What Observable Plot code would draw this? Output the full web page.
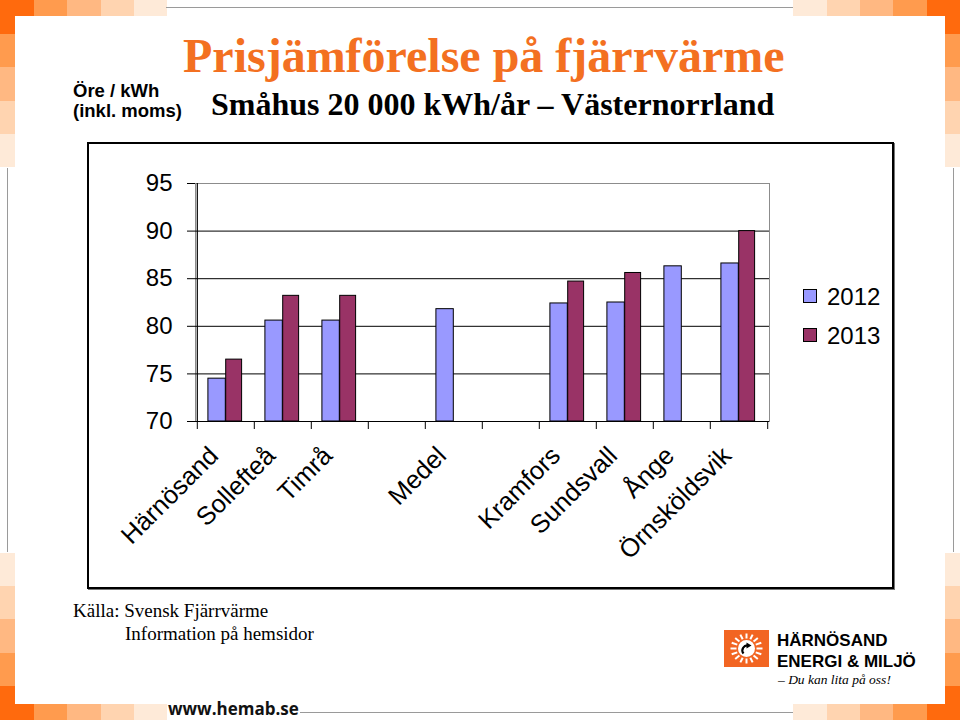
<!DOCTYPE html>
<html><head><meta charset="utf-8">
<script src="https://cdn.jsdelivr.net/npm/d3@7"></script>
<script src="https://cdn.jsdelivr.net/npm/@observablehq/plot@0.6"></script>
<style>
html,body{margin:0;padding:0;background:#fff;}
#page{position:relative;width:960px;height:720px;overflow:hidden;background:#fff;}
.sq{position:absolute;width:34px;height:34px;}
#panel{position:absolute;left:15px;top:16px;width:930px;height:688px;background:#fff;}
#chart{position:absolute;left:88px;top:143px;}
#frame{position:absolute;left:87px;top:142px;width:807px;height:447px;box-sizing:border-box;border:2px solid #000;box-shadow:1px 1px 0 #777;pointer-events:none;}
#overlay{position:absolute;left:0;top:0;}
</style></head>
<body><div id="page"><div id="deco"></div><div id="panel"></div><div id="chart"></div><div id="frame"></div>
<svg id="overlay" width="960" height="720"></svg></div>
<script>
// ---- data ----
const categories = ["Härnösand", "Sollefteå", "Timrå", null, "Medel", null, "Kramfors", "Sundsvall", "Ånge", "Örnsköldsvik"];
const years = ["2012", "2013"];
const values2012 = [74.5, 80.6, 80.6, null, 81.8, null, 82.4, 82.5, 86.3, 86.6];
const values2013 = [76.5, 83.2, 83.2, null, null, null, 84.7, 85.6, null, 90.0];
const yTicks = [70, 75, 80, 85, 90, 95];
const gridLines = [75, 80, 85, 90];
const barColors = ["#9999FF", "#993366"];

// ---- decoration (orange squares) ----
const shades = ["#FF6A0D", "#FF9B4E", "#FFB882", "#FFD4B0", "#FEEAD8"];
const deco = document.getElementById("deco");
function sq(x, y, c) { const d = document.createElement("div"); d.className = "sq"; d.style.left = x + "px"; d.style.top = y + "px"; d.style.background = c; deco.appendChild(d); }
for (let i = 4; i >= 0; i--) {
  sq(i * 33.3, 0, shades[i]); sq(0, i * 33.3, shades[i]);
  sq(926.5 - i * 33.3, 0, shades[i]); sq(926.5, i * 33.3, shades[i]);
  sq(i * 33.3, 686, shades[i]); sq(0, 686 - i * 33.3, shades[i]);
  sq(926.5 - i * 33.3, 686, shades[i]); sq(926.5, 686 - i * 33.3, shades[i]);
}

// ---- chart ----
const keys = categories.map((c, i) => c ?? `gap${i}`);
const label = k => k.startsWith("gap") ? "" : k;
const bars = [];
keys.forEach((k, i) => {
  if (values2012[i] != null) bars.push({key: k, year: years[0], value: values2012[i]});
  if (values2013[i] != null) bars.push({key: k, year: years[1], value: values2013[i]});
});
const W = 806, H = 446, mL = 107, mR = 125, mT = 40, mB = 168;
const bw = (W - mL - mR) / keys.length;

const chart = Plot.plot({
  width: W, height: H, marginLeft: mL, marginRight: mR, marginTop: mT, marginBottom: mB,
  style: {fontFamily: "'Liberation Sans', Arial, sans-serif", fontSize: "24px", color: "#000", background: "transparent", overflow: "visible"},
  x: {type: "band", domain: keys, padding: 0, axis: null},
  y: {domain: [70, 95], axis: null},
  marks: [
    Plot.frame({stroke: "#8c8c8c"}),
    Plot.ruleY(gridLines, {stroke: "#000"}),
    Plot.barY(bars.filter(d => d.year === years[0]), {x: "key", y1: 70, y2: "value", fill: barColors[0], stroke: "#000", insetLeft: bw * 0.19, insetRight: bw * 0.5}),
    Plot.barY(bars.filter(d => d.year === years[1]), {x: "key", y1: 70, y2: "value", fill: barColors[1], stroke: "#000", insetLeft: bw * 0.5, insetRight: bw * 0.216}),
    Plot.ruleY([70], {stroke: "#000", strokeWidth: 1.2}),
    Plot.ruleX(keys, {x: d => d, y1: 70, y2: 70, insetBottom: -8, dx: -bw / 2, stroke: "#000"}),
    Plot.ruleX([keys[keys.length - 1]], {x: d => d, y1: 70, y2: 70, insetBottom: -8, dx: bw / 2, stroke: "#000"}),
    Plot.ruleX([keys[0]], {x: d => d, y1: 70, y2: 95, dx: -bw / 2, stroke: "#000", strokeWidth: 1.2}),
    Plot.axisY({ticks: yTicks, tickSize: 8, tickPadding: 15, fontSize: 24, label: null}),
    Plot.text(keys, {x: d => d, text: label, frameAnchor: "bottom", rotate: -45, textAnchor: "end", lineAnchor: "middle", dy: 30, dx: -12, fontSize: 25.5})
  ]
});
document.getElementById("chart").appendChild(chart);

// ---- overlay texts ----
const ov = d3.select("#overlay");
const line = (x1, y1, x2, y2) => ov.append("line").attr("x1", x1).attr("y1", y1).attr("x2", x2).attr("y2", y2).attr("stroke", "#9a9a9a").attr("stroke-width", 1);
line(166, 7.5, 793, 7.5); line(300, 712.5, 793, 712.5); line(7.5, 168, 7.5, 552); line(953.5, 168, 953.5, 552);
const txt = (x, y, s, o) => {
  const t = ov.append("text").attr("x", x).attr("y", y).text(s);
  Object.entries(o).forEach(([k, v]) => t.attr(k, v));
  return t;
};
const serif = "'Liberation Serif', 'Times New Roman', serif";
const sans = "'Liberation Sans', Arial, sans-serif";
txt(183, 72, "Prisjämförelse på fjärrvärme", {"font-family": serif, "font-weight": "bold", "font-size": 48, fill: "#F37021"});
txt(211, 115, "Småhus 20 000 kWh/år – Västernorrland", {"font-family": serif, "font-weight": "bold", "font-size": 32, fill: "#000"});
txt(73, 97, "Öre / kWh", {"font-family": sans, "font-weight": "bold", "font-size": 18.5});
txt(73, 117, "(inkl. moms)", {"font-family": sans, "font-weight": "bold", "font-size": 18.5});
// legend
years.forEach((y, i) => {
  ov.append("rect").attr("x", 803.5).attr("y", 289.5 + i * 39).attr("width", 13).attr("height", 13).attr("fill", barColors[i]).attr("stroke", "#000");
  txt(827, 305 + i * 39, y, {"font-family": sans, "font-size": 24});
});
txt(73, 617, "Källa: Svensk Fjärrvärme", {"font-family": serif, "font-size": 19});
txt(125, 640, "Information på hemsidor", {"font-family": serif, "font-size": 19});
txt(168, 715, "www.hemab.se", {"font-family": "'Open Sans', sans-serif", "font-weight": "bold", "font-size": 17, fill: "#111"});
// logo
ov.append("rect").attr("x", 724).attr("y", 630).attr("width", 45).attr("height", 37).attr("fill", "#F26522");
const cx = 746.5, cy = 648.5;
for (let a = 0; a < 16; a++) {
  const ang = a * Math.PI / 8;
  ov.append("line").attr("x1", cx + Math.cos(ang) * 10).attr("y1", cy + Math.sin(ang) * 10).attr("x2", cx + Math.cos(ang) * 16).attr("y2", cy + Math.sin(ang) * 15).attr("stroke", "#fff").attr("stroke-width", 2);
}
ov.append("circle").attr("cx", cx).attr("cy", cy).attr("r", 8.5).attr("fill", "#fff");
ov.append("path").attr("d", `M${cx - 3},${cy + 5} A5,5 0 0 1 ${cx + 2},${cy - 3}`).attr("fill", "none").attr("stroke", "#000").attr("stroke-width", 2.2);
ov.append("path").attr("d", `M${cx},${cy - 6} L${cx + 5},${cy - 3} L${cx},${cy}Z`).attr("fill", "#000");
txt(777, 646, "HÄRNÖSAND", {"font-family": sans, "font-weight": "bold", "font-size": 17});
txt(777, 667, "ENERGI & MILJÖ", {"font-family": sans, "font-weight": "bold", "font-size": 17});
txt(778, 684, "– Du kan lita på oss!", {"font-family": serif, "font-style": "italic", "font-size": 13.5});
</script></body></html>
